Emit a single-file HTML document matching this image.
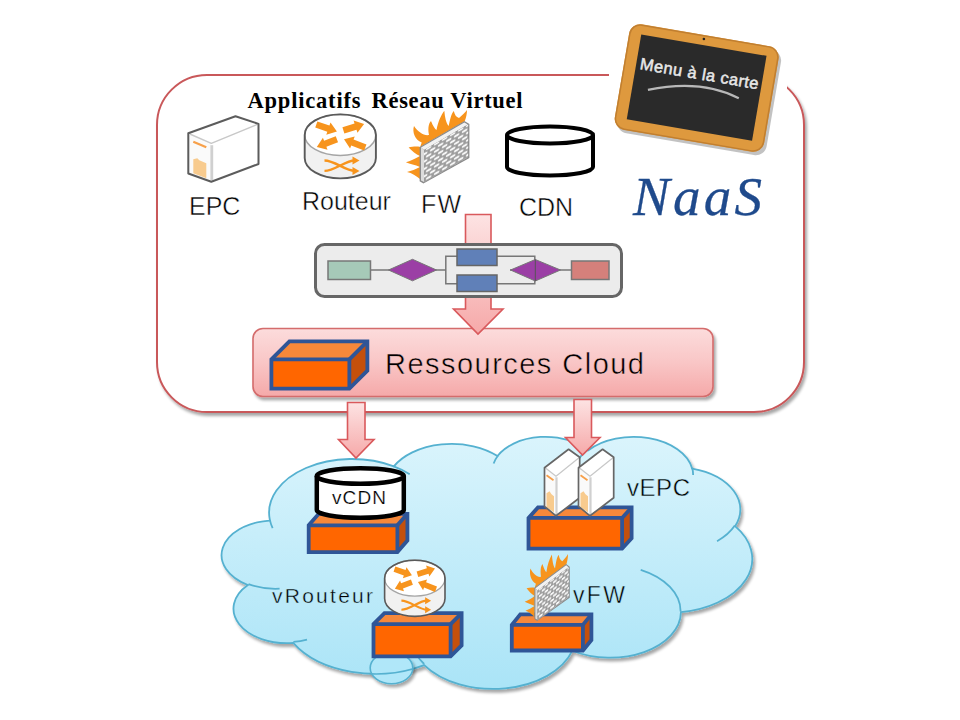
<!DOCTYPE html>
<html><head><meta charset="utf-8"><style>
html,body{margin:0;padding:0;background:#fff;}
svg{display:block;}
text{font-family:"Liberation Sans",sans-serif;}
.serif{font-family:"Liberation Serif",serif;}
</style></head><body>
<svg width="960" height="720" viewBox="0 0 960 720">
<defs>
<linearGradient id="pinkA" x1="0" y1="0" x2="0" y2="1"><stop offset="0" stop-color="#fde3e3"/><stop offset="1" stop-color="#f6a9a9"/></linearGradient>
<linearGradient id="boxG" x1="0" y1="0" x2="0" y2="1"><stop offset="0" stop-color="#fcdcdc"/><stop offset="0.5" stop-color="#f9c6c6"/><stop offset="1" stop-color="#f5a9a9"/></linearGradient>
<linearGradient id="cloudG" x1="0" y1="0" x2="0" y2="1"><stop offset="0" stop-color="#daf4fc"/><stop offset="1" stop-color="#aae4f7"/></linearGradient>
<filter id="shd" x="-10%" y="-10%" width="120%" height="130%"><feGaussianBlur in="SourceAlpha" stdDeviation="1.8"/><feOffset dx="1.5" dy="2.5" result="o"/><feComponentTransfer><feFuncA type="linear" slope="0.35"/></feComponentTransfer><feMerge><feMergeNode/><feMergeNode in="SourceGraphic"/></feMerge></filter>
<pattern id="brick" patternUnits="userSpaceOnUse" width="8" height="7.4" patternTransform="translate(424,150) skewY(-30)">
<rect width="8" height="7.4" fill="#9c9c9c"/>
<rect x="0.8" y="0.6" width="5.6" height="2.4" rx="1.2" fill="#f7f7f7"/>
<rect x="4.8" y="4.3" width="5.6" height="2.4" rx="1.2" fill="#f7f7f7"/>
<rect x="-3.2" y="4.3" width="5.6" height="2.4" rx="1.2" fill="#f7f7f7"/>
</pattern>
<g id="router">
<path d="M1.2,21 L1.2,44 A35.6,20.5 0 0 0 72.4,44 L72.4,21 Z" fill="#f1f1f1"/>
<ellipse cx="36.8" cy="21" rx="35.6" ry="20.5" fill="#fff" stroke="#a5a5a5" stroke-width="1.5"/>
<path d="M1.2,44 L1.2,21 A35.6,20.5 0 0 1 72.4,21 L72.4,44 A35.6,20.5 0 0 1 1.2,44 Z" fill="none" stroke="#5a5a5a" stroke-width="1.9"/>
<g fill="#f7941d"><polygon points="11.74,13.67 23.83,17.84 22.77,20.91 33.40,17.70 27.01,8.62 25.95,11.69 13.86,7.53"/><polygon points="40.87,19.60 52.99,15.80 53.96,18.90 60.60,10.00 50.07,6.49 51.04,9.60 38.93,13.40"/><polygon points="32.25,22.36 20.57,26.78 19.42,23.74 13.30,33.00 24.02,35.90 22.87,32.86 34.55,28.44"/><polygon points="62.97,30.57 50.07,25.60 51.23,22.57 40.50,25.40 46.56,34.70 47.73,31.67 60.63,36.63"/></g>
<g fill="none" stroke="#f7941d" stroke-width="2.4">
<path d="M21,46.6 C31,46.6 42,57 51,57"/><path d="M21,57 C31,57 42,46.6 51,46.6"/>
</g>
<g fill="#f7941d"><polygon points="56,46.6 49,42.6 49,50.6"/><polygon points="56,57 49,53 49,61"/></g>
</g>
<g id="srvw" stroke-linejoin="round">
<polygon points="0,17.1 23,27.2 23,65.6 0,57.3" fill="#fafafa"/>
<polygon points="23,27.2 70.2,7.7 70.2,47.8 23,65.6" fill="#fff"/>
<polygon points="0,17.1 47.2,0 70.2,7.7 23,27.2" fill="#fff"/>
<line x1="23.5" y1="29" x2="23.5" y2="64" stroke="#d0d0d0" stroke-width="2.8"/>
<polyline points="1.5,17.8 23,27.2 69,8.2" fill="none" stroke="#c8c8c8" stroke-width="1.4"/>
<line x1="5" y1="25.5" x2="18" y2="31" stroke="#f7a04a" stroke-width="2.2"/>
<polygon points="5,43 9,42 11,44 18,47 18,62 5,57" fill="#f8cb8e"/>
<polygon points="0,17.1 47.2,0 70.2,7.7 70.2,47.8 23,65.6 0,57.3" fill="none" stroke="#5c5c5c" stroke-width="2"/>
</g>
<g id="srvt" stroke-linejoin="round">
<polygon points="0,18.4 11.5,26.9 11.5,66.5 0,57" fill="#fafafa"/>
<polygon points="11.5,26.9 35.2,7.9 35.2,48.5 11.5,66.5" fill="#fff"/>
<polygon points="0,18.4 24.1,0 35.2,7.9 11.5,26.9" fill="#fff"/>
<line x1="12" y1="28" x2="12" y2="65" stroke="#d0d0d0" stroke-width="2.2"/>
<polyline points="1,18.8 11.5,26.9 34.5,8.5" fill="none" stroke="#c8c8c8" stroke-width="1.2"/>
<line x1="2" y1="26" x2="9" y2="31" stroke="#f7a04a" stroke-width="1.8"/>
<polygon points="2,44 5,42 7,45 9.5,47 9.5,63 2,58" fill="#f8cb8e"/>
<polygon points="0,18.4 24.1,0 35.2,7.9 35.2,48.5 11.5,66.5 0,57" fill="none" stroke="#666" stroke-width="1.7"/>
</g>
<g id="fw">
<path fill="#f7941d" d="M15.2,38 L16.7,33.5 C10,31 7,23 9,17 C13,23 19,27 24,26 C23,21 23,15 26,12 C28,17 30,20 31.5,21 C33,13 36,6 39.3,1.7 C40,8 41,14 43.7,17 C45,11 46,5 48.8,2 C50,6 51,8 54,9 C57,6 60,4 62,1 C62,5 61,9 59.7,12.3 Z"/>
<path fill="#f7941d" d="M15.2,38 C11,37 7,38 3.6,38.4 C7,42 11,45 15,47 C10,50 5,52 0.9,53.3 C5,55 10,56 15,58 C11,60 6,62 2,63 C7,64 11,67 15,70 Z"/>
<polygon points="14.6,37.9 59.4,12.1 64.4,15 64.4,49 18.4,74.4 14.6,72.2" fill="#8a8a8a"/>
<polygon points="16,38.6 59.4,13.5 62.8,15.5 19,41" fill="#f2f2f2"/>
<polygon points="16,38.6 19,41 19,73 16,71.5" fill="#dcdcdc"/>
<polygon points="19,41 63.2,15.5 63.2,48.2 19,73.2" fill="url(#brick)"/>
</g>
</defs>

<!-- big rounded rect -->
<rect x="157" y="75" width="647" height="337" rx="50" ry="50" fill="#fff" stroke="#c9585a" stroke-width="2" filter="url(#shd)"/>

<!-- title -->
<text x="247.5" y="107.5" font-weight="bold" font-size="22.5" fill="#000" class="serif" textLength="113" lengthAdjust="spacing">Applicatifs</text>
<text x="371.5" y="107.5" font-weight="bold" font-size="22.5" fill="#000" class="serif" textLength="151" lengthAdjust="spacing">Réseau Virtuel</text>

<!-- labels -->
<text x="189" y="214.5" font-size="25" fill="#000" stroke="#fff" stroke-width="0.45">EPC</text>
<text x="302" y="210" font-size="25" fill="#000" stroke="#fff" stroke-width="0.45">Routeur</text>
<text x="421" y="213" font-size="25" fill="#000" stroke="#fff" stroke-width="0.45" textLength="40">FW</text>
<text x="519" y="216" font-size="25" fill="#000" stroke="#fff" stroke-width="0.45">CDN</text>

<!-- CDN cylinder -->
<g fill="#fff" stroke="#000" stroke-width="4">
<path d="M507 135 L507 167 A43 8.5 0 0 0 593 167 L593 135"/>
<ellipse cx="550" cy="135" rx="43" ry="8.5"/>
</g>

<use href="#srvw" x="188.3" y="116.2"/>
<use href="#router" x="303.5" y="113.9"/>
<use href="#fw" x="405" y="109"/>

<!-- NaaS -->
<text x="633" y="215" font-style="italic" font-size="55" fill="#1f4a8c" stroke="#1f4a8c" stroke-width="0.3" class="serif" textLength="129" lengthAdjust="spacing">NaaS</text>

<!-- chalkboard -->
<rect x="609" y="15" width="178" height="152" fill="#fff"/>
<g transform="rotate(9.7 696.65 87.55)">
<rect x="624" y="37.5" width="151.5" height="107" rx="11" fill="#777" opacity="0.45"/>
<rect x="621" y="34.5" width="151.5" height="107" rx="11" fill="#de993e"/>
<rect x="621.75" y="35.25" width="150" height="105.5" rx="10.5" fill="none" stroke="#c17f30" stroke-width="1.5"/>
<rect x="633.1" y="44.55" width="127.1" height="86" fill="#2a2a2a"/>
<circle cx="695.6" cy="38.5" r="1.3" fill="#222"/>
<text x="637" y="79" font-size="16.5" fill="#e8e8e8" stroke="#e8e8e8" stroke-width="0.5" textLength="120" lengthAdjust="spacing">Menu à la carte</text>
<path d="M649 98 Q 700 78 740 91" stroke="#b8b8b8" stroke-width="2.2" fill="none"/>
</g>

<!-- ressources cloud box -->
<rect x="253" y="328.5" width="460" height="68" rx="10" fill="url(#boxG)" stroke="#d46c6c" stroke-width="1.6" filter="url(#shd)"/>
<g>
<polygon points="271.4,359.4 289.4,341.4 367.35,341.4 349.35,359.4" fill="#f7883a"/>
<polygon points="349.35,359.4 367.35,341.4 367.35,370.6 349.35,388.6" fill="#c4500c"/>
<rect x="271.4" y="359.4" width="77.95000000000005" height="29.200000000000045" fill="#ff6600"/>
<polyline points="271.4,359.4 349.35,359.4 349.35,388.6" fill="none" stroke="#2f5597" stroke-width="3.8"/>
<line x1="349.35" y1="359.4" x2="367.35" y2="341.4" stroke="#2f5597" stroke-width="3.8"/>
<polygon points="271.4,388.6 271.4,359.4 289.4,341.4 367.35,341.4 367.35,370.6 349.35,388.6" fill="none" stroke="#2f5597" stroke-width="3.8" stroke-linejoin="miter"/></g>
<text x="385" y="374" font-size="29" fill="#000" stroke="#f9caca" stroke-width="0.5" textLength="259" lengthAdjust="spacing">Ressources Cloud</text>

<!-- arrow 1 (behind pipeline box) -->
<polygon points="465.5,214.5 491,214.5 491,309 503,309 478,334 453.5,309 465.5,309" fill="url(#pinkA)" stroke="#d9595c" stroke-width="1.6" stroke-linejoin="miter"/>
<!-- pipeline box -->
<rect x="315.5" y="244.5" width="306" height="52" rx="9" fill="#ececec" stroke="#666" stroke-width="3"/>

<!-- pipeline contents -->
<g stroke="#777" stroke-width="1.5" fill="none">
<line x1="371" y1="270" x2="446" y2="270"/>
<polyline points="457,256.3 445.8,256.3 445.8,283.7 457,283.7"/>
<polyline points="497,256.3 534.8,256.3 534.8,283.7 497,283.7"/>
<line x1="510" y1="270" x2="571" y2="270"/>
</g>
<rect x="328" y="261" width="42.5" height="18.5" fill="#a6c9b8" stroke="#777" stroke-width="1.5"/>
<polygon points="388.5,270 412.5,259.3 436.5,270 412.5,280.8" fill="#9b3fa5" stroke="#777" stroke-width="1"/>
<rect x="457" y="249" width="40" height="16.5" fill="#6080b8" stroke="#666" stroke-width="1.5"/>
<rect x="457" y="275" width="40" height="16.5" fill="#6080b8" stroke="#666" stroke-width="1.5"/>
<polygon points="510.5,270 535.3,259.5 560.5,270 535.3,281" fill="#9b3fa5" stroke="#777" stroke-width="1"/>
<line x1="535.3" y1="259.5" x2="535.3" y2="281" stroke="#555" stroke-width="1"/>
<rect x="571.5" y="261" width="37.5" height="18.5" fill="#d5807b" stroke="#777" stroke-width="1.5"/>

<!-- cloud -->
<path d="M269.85 519.83A82.85 53.61 0 0 1 393.82 466.35A65.43 42.39 0 0 1 497.50 456.02A53.55 34.68 0 0 1 588.01 450.47A59.59 38.47 0 0 1 692.11 468.53A65.43 42.43 0 0 1 735.05 526.18A83.12 53.78 0 0 1 680.90 612.18A70.97 45.89 0 0 1 572.34 650.74A82.84 53.75 0 0 1 424.19 665.04A94.71 61.50 0 0 1 293.22 642.91A53.49 34.52 0 0 1 247.93 585.03A53.31 34.68 0 0 1 269.40 520.61Z" fill="url(#cloudG)" stroke="#55b1d0" stroke-width="1.8" filter="url(#shd)"/>
<path d="M279.58 588.70A53.31 34.68 0 0 1 248.50 584.05M307.00 639.58A53.49 34.52 0 0 1 293.40 641.80M424.16 664.02A82.84 53.75 0 0 1 415.97 653.87M575.66 638.71A82.84 53.75 0 0 1 572.39 649.85M640.71 569.90A70.97 45.89 0 0 1 680.60 611.52M734.80 525.57A65.43 42.43 0 0 1 717.04 541.17M692.18 467.65A59.59 38.47 0 0 1 693.12 475.02M578.74 459.05A59.59 38.47 0 0 1 587.84 449.65M493.64 463.53A53.55 34.68 0 0 1 498.04 455.43M393.76 466.29A82.85 53.61 0 0 1 409.71 474.15M272.63 528.10A82.85 53.61 0 0 1 269.85 519.83" fill="none" stroke="#55b1d0" stroke-width="1.8"/>

<clipPath id="bub"><ellipse cx="391.5" cy="668" rx="21.3" ry="15.7"/></clipPath>
<ellipse cx="391.5" cy="668" rx="21.3" ry="15.7" fill="#b0e7f9" stroke="#55b1d0" stroke-width="1.6" filter="url(#shd)"/>
<path d="M269.85 519.83A82.85 53.61 0 0 1 393.82 466.35A65.43 42.39 0 0 1 497.50 456.02A53.55 34.68 0 0 1 588.01 450.47A59.59 38.47 0 0 1 692.11 468.53A65.43 42.43 0 0 1 735.05 526.18A83.12 53.78 0 0 1 680.90 612.18A70.97 45.89 0 0 1 572.34 650.74A82.84 53.75 0 0 1 424.19 665.04A94.71 61.50 0 0 1 293.22 642.91A53.49 34.52 0 0 1 247.93 585.03A53.31 34.68 0 0 1 269.40 520.61Z" fill="none" stroke="#55b1d0" stroke-width="1.6" clip-path="url(#bub)"/>
<!-- arrows down -->
<polygon points="347.5,402.5 365,402.5 365,439.5 374,439.5 356,458 338.5,439.5 347.5,439.5" fill="url(#pinkA)" stroke="#d9595c" stroke-width="1.6" stroke-linejoin="miter"/>
<polygon points="574,399.5 591.5,399.5 591.5,437.5 600,437.5 582.5,455 565.5,437.5 574,437.5" fill="url(#pinkA)" stroke="#d9595c" stroke-width="1.6" stroke-linejoin="miter"/>

<!-- cubes -->
<g>
<polygon points="308.7,525.3 318.7,513.8 407.40000000000003,513.8 397.40000000000003,525.3" fill="#f7883a"/>
<polygon points="397.40000000000003,525.3 407.40000000000003,513.8 407.40000000000003,540.6 397.40000000000003,552.1" fill="#c4500c"/>
<rect x="308.7" y="525.3" width="88.70000000000005" height="26.800000000000068" fill="#ff6600"/>
<polyline points="308.7,525.3 397.40000000000003,525.3 397.40000000000003,552.1" fill="none" stroke="#2f5597" stroke-width="3.8"/>
<line x1="397.40000000000003" y1="525.3" x2="407.40000000000003" y2="513.8" stroke="#2f5597" stroke-width="3.8"/>
<polygon points="308.7,552.1 308.7,525.3 318.7,513.8 407.40000000000003,513.8 407.40000000000003,540.6 397.40000000000003,552.1" fill="none" stroke="#2f5597" stroke-width="3.8" stroke-linejoin="miter"/></g>
<g>
<polygon points="528.5,517.9 538.0,507.4 631.6,507.4 622.1,517.9" fill="#f7883a"/>
<polygon points="622.1,517.9 631.6,507.4 631.6,538.2 622.1,548.7" fill="#c4500c"/>
<rect x="528.5" y="517.9" width="93.60000000000002" height="30.800000000000068" fill="#ff6600"/>
<polyline points="528.5,517.9 622.1,517.9 622.1,548.7" fill="none" stroke="#2f5597" stroke-width="3.8"/>
<line x1="622.1" y1="517.9" x2="631.6" y2="507.4" stroke="#2f5597" stroke-width="3.8"/>
<polygon points="528.5,548.7 528.5,517.9 538.0,507.4 631.6,507.4 631.6,538.2 622.1,548.7" fill="none" stroke="#2f5597" stroke-width="3.8" stroke-linejoin="miter"/></g>
<g>
<polygon points="373.5,624.1 384.5,613.1 461.6,613.1 450.6,624.1" fill="#f7883a"/>
<polygon points="450.6,624.1 461.6,613.1 461.6,645.4 450.6,656.4" fill="#c4500c"/>
<rect x="373.5" y="624.1" width="77.10000000000002" height="32.299999999999955" fill="#ff6600"/>
<polyline points="373.5,624.1 450.6,624.1 450.6,656.4" fill="none" stroke="#2f5597" stroke-width="3.8"/>
<line x1="450.6" y1="624.1" x2="461.6" y2="613.1" stroke="#2f5597" stroke-width="3.8"/>
<polygon points="373.5,656.4 373.5,624.1 384.5,613.1 461.6,613.1 461.6,645.4 450.6,656.4" fill="none" stroke="#2f5597" stroke-width="3.8" stroke-linejoin="miter"/></g>
<g>
<polygon points="511.79999999999995,624.9 520.3,614.4 591.4,614.4 582.9,624.9" fill="#f7883a"/>
<polygon points="582.9,624.9 591.4,614.4 591.4,640.0 582.9,650.5" fill="#c4500c"/>
<rect x="511.79999999999995" y="624.9" width="71.10000000000002" height="25.600000000000023" fill="#ff6600"/>
<polyline points="511.79999999999995,624.9 582.9,624.9 582.9,650.5" fill="none" stroke="#2f5597" stroke-width="3.8"/>
<line x1="582.9" y1="624.9" x2="591.4" y2="614.4" stroke="#2f5597" stroke-width="3.8"/>
<polygon points="511.79999999999995,650.5 511.79999999999995,624.9 520.3,614.4 591.4,614.4 591.4,640.0 582.9,650.5" fill="none" stroke="#2f5597" stroke-width="3.8" stroke-linejoin="miter"/></g>

<!-- vCDN cylinder -->
<g fill="#fff" stroke="#000" stroke-width="4.5">
<path d="M316.8 476 L316.8 510 A43.5 7.8 0 0 0 403.8 510 L403.8 476"/>
<ellipse cx="360.3" cy="476" rx="43.5" ry="7.8"/>
</g>
<text x="332" y="503.5" font-size="19" fill="#000" stroke="#fff" stroke-width="0.2" textLength="54">vCDN</text>

<use href="#srvt" x="544.5" y="449.3"/>
<use href="#srvt" x="578.5" y="449.3"/>
<use href="#router" transform="translate(383.6,559.8) scale(0.848,0.877)"/>
<use href="#fw" transform="translate(524,553) scale(0.71,0.915)"/>

<text x="627" y="496" font-size="24" fill="#000" stroke="#c9edf9" stroke-width="0.45" textLength="63">vEPC</text>
<text x="573" y="602.5" font-size="23" fill="#000" stroke="#bde8f8" stroke-width="0.45" textLength="52">vFW</text>
<text x="272" y="603" font-size="21" fill="#000" stroke="#bde8f8" stroke-width="0.4" textLength="101">vRouteur</text>

</svg>
</body></html>
